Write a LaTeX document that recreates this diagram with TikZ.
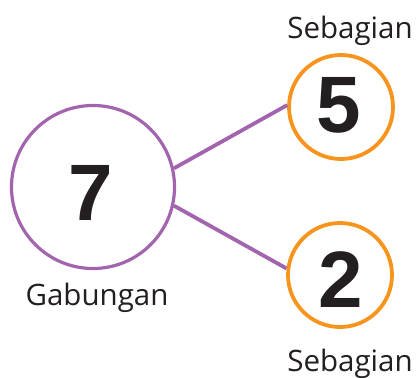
\documentclass[tikz,border=0pt]{standalone}
\usepackage{fontspec}
\setmainfont{Open Sans}
\newfontfamily\numfont{Liberation Sans}
\definecolor{purp}{HTML}{A364AE}
\definecolor{oran}{HTML}{F7941D}
\definecolor{ink}{HTML}{231F20}
\begin{document}
\begin{tikzpicture}[x=1pt,y=-1pt,
  bigc/.style={draw=purp,line width=3.2pt,circle,minimum size=163pt,inner sep=0pt},
  smallc/.style={draw=oran,line width=3.8pt,circle,minimum size=104pt,inner sep=0pt},
  num/.style={font=\numfont\bfseries\fontsize{80}{80}\selectfont,text=ink,anchor=base},
  lab/.style={font=\fontsize{29.5}{29.5}\selectfont,text=ink,anchor=base},
  link/.style={draw=purp,line width=3.8pt}]
\useasboundingbox (0,0) rectangle (419,377);
\node[bigc] (g) at (93,187) {};
\node[smallc] (s1) at (341,107) {};
\node[smallc] (s2) at (340,275) {};
\node[num] (n7) at (91,220) {7};
\node[num] (n5) at (339,132) {5};
\node[num] (n2) at (341,307) {2};
\node[lab] (lg) at (97,305) {Gabungan};
\node[lab] (l1) at (350,39) {Sebagian};
\node[lab] (l2) at (350,371) {Sebagian};
\draw[link] (g.13) -- (s1.178);
\draw[link] (g.-13) -- (s2.173);
\end{tikzpicture}
\end{document}
